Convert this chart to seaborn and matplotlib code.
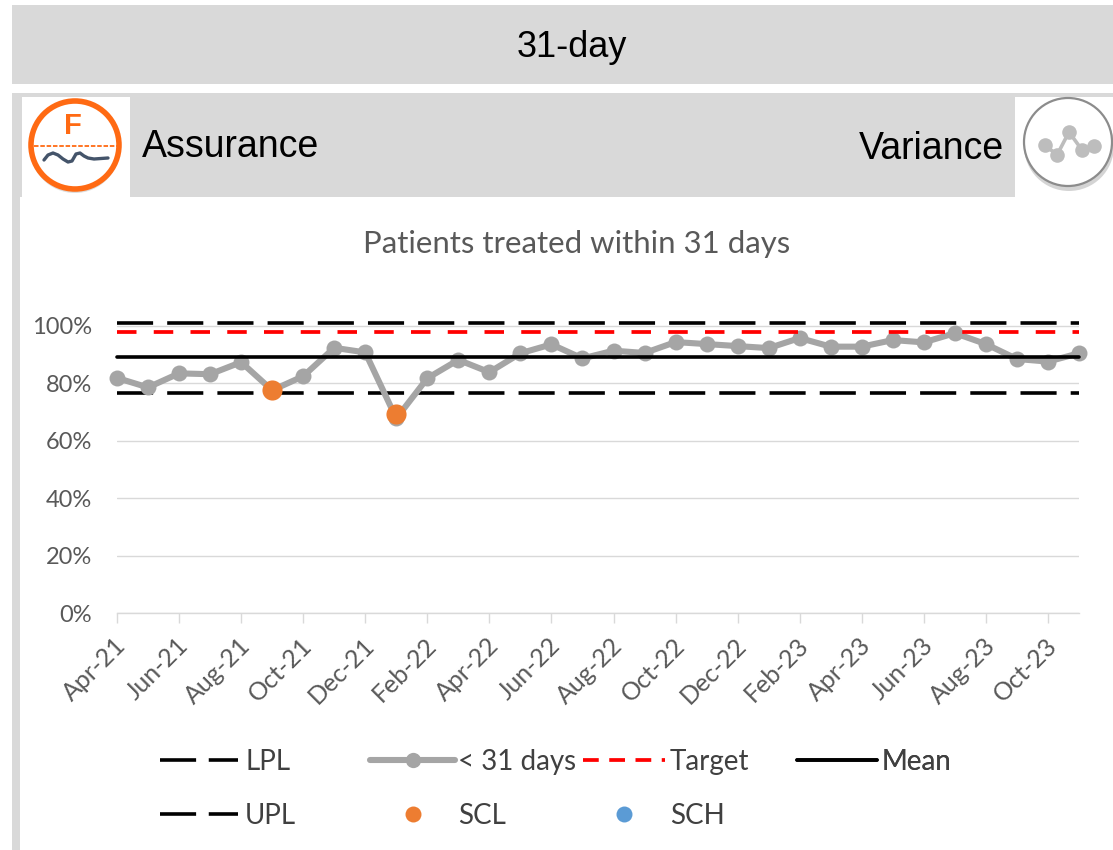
import numpy as np
import pandas as pd
import matplotlib
matplotlib.use("Agg")
import matplotlib.pyplot as plt
import seaborn as sns
from matplotlib.lines import Line2D
from matplotlib.patches import Circle, Rectangle
from matplotlib.transforms import ScaledTranslation

# monthly values
months = ["Apr-21", "May-21", "Jun-21", "Jul-21", "Aug-21", "Sep-21", "Oct-21", "Nov-21",
          "Dec-21", "Jan-22", "Feb-22", "Mar-22", "Apr-22", "May-22", "Jun-22", "Jul-22",
          "Aug-22", "Sep-22", "Oct-22", "Nov-22", "Dec-22", "Jan-23", "Feb-23", "Mar-23",
          "Apr-23", "May-23", "Jun-23", "Jul-23", "Aug-23", "Sep-23", "Oct-23", "Nov-23"]
within_31 = [81.9, 78.6, 83.5, 83.2, 87.4, 77.6, 82.5, 92.4, 90.8, 67.8, 81.8, 88.2,
             83.9, 90.5, 93.6, 88.7, 91.4, 90.6, 94.4, 93.7, 93.0, 92.3, 95.8, 92.8,
             92.8, 95.1, 94.3, 97.5, 93.7, 88.5, 87.6, 90.5]
scl_months = ["Sep-21", "Jan-22"]
scl_values = [77.8, 69.2]
lpl_value = 76.7
upl_value = 101.1
target_value = 98.0
mean_value = 89.3
y_ticks = [0, 20, 40, 60, 80, 100]

W, H = 1113, 850
GREY = "#d9d9d9"
TEXT = "#595959"

sns.set_theme(style="whitegrid")
plt.rcParams["font.family"] = ["Lato", "DejaVu Sans"]

fig = plt.figure(figsize=(W / 100, H / 100), dpi=100, facecolor="white")

# page furniture, in pixel coordinates
bg = fig.add_axes([0, 0, 1, 1], zorder=0)
bg.set_xlim(0, W)
bg.set_ylim(H, 0)
bg.axis("off")
bg.add_patch(Rectangle((12, 5), W - 12, 79, fc=GREY, ec="none"))
bg.add_patch(Rectangle((12, 93), W - 12, 4, fc=GREY, ec="none"))
bg.add_patch(Rectangle((12, 93), 8, H - 93, fc=GREY, ec="none"))
bg.add_patch(Rectangle((130, 93), 885, 104, fc=GREY, ec="none"))
bg.add_patch(Rectangle((20, 97), 2, 100, fc=GREY, ec="none"))

arial = ["Liberation Sans", "DejaVu Sans"]
bg.text(572, 47, "31-day", ha="center", va="center", fontsize=26, color="black", family=arial)
bg.text(142, 147, "Assurance", ha="left", va="center", fontsize=27, color="black", family=arial)
bg.text(1004, 149, "Variance", ha="right", va="center", fontsize=27, color="black", family=arial)

# assurance icon
bg.add_patch(Circle((75, 148), 45, fc="#bbbbbb", ec="none", alpha=0.5))
bg.add_patch(Circle((75, 145), 44, fc="white", ec="#ff6a13", lw=4))
bg.text(73, 126, "F", ha="center", va="center", fontsize=21, color="#ff6a13",
        family=arial, fontweight="bold")
bg.plot([34, 117], [146, 146], color="#ff6a13", lw=1.3, ls=(0, (2.5, 1)))
bg.plot([44, 48, 53, 58, 63, 68, 72, 76, 80, 84, 88, 94, 108],
        [160, 155, 153, 155, 159, 162, 161, 154, 153, 156, 158, 159, 158],
        color="#44546a", lw=2.4, solid_capstyle="round", solid_joinstyle="round")

# variance icon
bg.add_patch(Circle((1069, 146), 45, fc="#aaaaaa", ec="none", alpha=0.5))
bg.add_patch(Circle((1068, 142), 44, fc="white", ec="#8c8c8c", lw=1.6))
bg.plot([1045, 1057, 1069, 1082, 1094], [145, 155, 132, 150, 146], color="#bdbdbd",
        lw=2.6, marker="o", ms=10.5, mew=0)

# chart: 0% sits at y=613, 100% at y=326, Apr-21 at x=117, Nov-23 at x=1079
ymax = 105
top = 613 - ymax * 2.87
ax = fig.add_axes([117 / W, 1 - 613 / H, (1079 - 117) / W, (613 - top) / H], zorder=1)
ax.patch.set_alpha(0)

df = pd.DataFrame({"month": months, "within_31": within_31})
df["lpl"] = lpl_value
df["upl"] = upl_value
df["target"] = target_value
df["mean"] = mean_value
scl = pd.DataFrame({"month": scl_months, "value": scl_values})

line_kw = dict(data=df, x="month", ax=ax, sort=False, estimator=None, errorbar=None,
               legend=False, clip_on=False)
long_dash = (0, (10, 3.9))
red_dash = (0, (5.2, 4.6))
sns.lineplot(y="within_31", color="#a5a5a5", lw=4.4, marker="o", ms=11.5, mew=0, zorder=4, **line_kw)
sns.lineplot(y="upl", color="black", lw=2.6, linestyle=long_dash, zorder=3, **line_kw)
sns.lineplot(y="lpl", color="black", lw=2.6, linestyle=long_dash, zorder=3, **line_kw)
sns.lineplot(y="target", color="#ff0000", lw=2.7, linestyle=red_dash, zorder=5, **line_kw)
sns.lineplot(y="mean", color="black", lw=2.6, zorder=5, **line_kw)
sns.scatterplot(data=scl, x="month", y="value", ax=ax, color="#ed7d31", s=210, linewidth=0,
                zorder=6, legend=False, clip_on=False)

ax.set_xlim(0, len(months) - 1)
ax.set_ylim(0, ymax)
ax.set_xlabel("")
ax.set_ylabel("")
ax.set_yticks(y_ticks)
ax.set_yticklabels([f"{v}%" for v in y_ticks])
ax.set_xticks(range(0, len(months), 2))
ax.set_xticklabels(months[::2], rotation=45, ha="right", rotation_mode="anchor")
ax.tick_params(axis="y", length=0, labelsize=17, labelcolor=TEXT, pad=18)
ax.tick_params(axis="x", length=7, width=1, color=GREY, labelsize=18, labelcolor=TEXT, pad=8,
               bottom=True)
# the rotated labels sit a little left of their ticks
shift = ScaledTranslation(-2 / 72, 0, fig.dpi_scale_trans)
for lab in ax.get_xticklabels():
    lab.set_transform(lab.get_transform() + shift)
ax.grid(False, axis="x")
ax.grid(True, axis="y", color=GREY, lw=1)
for side in ["top", "left", "right"]:
    ax.spines[side].set_visible(False)
ax.spines["bottom"].set_color(GREY)
ax.spines["bottom"].set_linewidth(1)

bg.text(577, 244, "Patients treated within 31 days", ha="center", va="center",
        fontsize=22.4, color=TEXT)

# legend: four separately anchored columns, like the original's uneven spacing
def dash_handle(color, style, lw=2.6):
    return Line2D([], [], color=color, lw=lw, linestyle=style)

def dot_handle(color):
    return Line2D([], [], color=color, lw=0, marker="o", ms=11.5, mew=0)

leg_dash = (0, (10, 3.5))
columns = [
    (160, 78, 0.26, [dash_handle("black", leg_dash), dash_handle("black", leg_dash)], ["LPL", "UPL"]),
    (370, 85, 0.12, [Line2D([], [], color="#a5a5a5", lw=4.4, marker="o", ms=11, mew=0), dot_handle("#ed7d31")],
     ["< 31 days", "SCL"]),
    (583, 82, 0.18, [dash_handle("#ff0000", (0, (4.2, 2.8)), 2.7), dot_handle("#5b9bd5")], ["Target", "SCH"]),
    (797, 80, 0.16, [dash_handle("black", "-")], ["Mean"]),
]
for x0, handle_px, text_pad, handles, labels in columns:
    fs = 20
    leg = bg.legend(handles, labels, loc="upper left", bbox_to_anchor=(x0 / W, 1 - 749 / H),
                    bbox_transform=fig.transFigure, frameon=False, fontsize=fs,
                    handlelength=handle_px / (fs * 100 / 72), handletextpad=text_pad,
                    borderpad=0, borderaxespad=0, labelspacing=1.0, labelcolor="#404040")
    bg.add_artist(leg)

fig.savefig("out.png", dpi=100)
